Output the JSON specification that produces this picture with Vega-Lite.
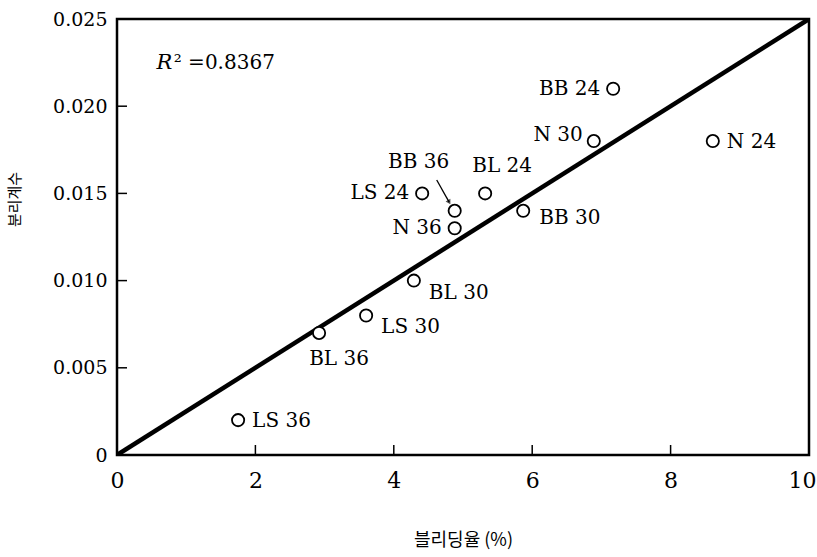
{
  "$schema": "https://vega.github.io/schema/vega-lite/v6.json",
  "width": 692,
  "height": 436,
  "autosize": {"type": "none"},
  "padding": {"left": 117, "top": 19, "right": 8, "bottom": 102},
  "background": "white",
  "config": {
    "view": {"stroke": "black", "strokeWidth": 2.5},
    "axis": {
      "domain": false,
      "grid": false,
      "ticks": false,
      "labelFlush": false,
      "labelColor": "black",
      "labelFont": "DejaVu Serif",
      "labelFontSize": 19,
      "titleFont": "Noto Sans CJK KR",
      "titleFontWeight": "normal",
      "titleColor": "black"
    }
  },
  "resolve": {"axis": {"x": "independent", "y": "independent"}},
  "datasets": {
    "pts": [
      {"name": "LS 36", "bleeding": 1.75, "coef": 0.002},
      {"name": "BL 36", "bleeding": 2.92, "coef": 0.007},
      {"name": "LS 30", "bleeding": 3.6, "coef": 0.008},
      {"name": "BL 30", "bleeding": 4.29, "coef": 0.010},
      {"name": "N 36", "bleeding": 4.88, "coef": 0.013},
      {"name": "BB 36", "bleeding": 4.88, "coef": 0.014},
      {"name": "LS 24", "bleeding": 4.41, "coef": 0.015},
      {"name": "BL 24", "bleeding": 5.32, "coef": 0.015},
      {"name": "BB 30", "bleeding": 5.87, "coef": 0.014},
      {"name": "N 30", "bleeding": 6.89, "coef": 0.018},
      {"name": "BB 24", "bleeding": 7.17, "coef": 0.021},
      {"name": "N 24", "bleeding": 8.61, "coef": 0.018}
    ],
    "fit": [
      {"bleeding": 0, "coef": 0},
      {"bleeding": 10, "coef": 0.025}
    ],
    "xticks": [{"v": 2}, {"v": 4}, {"v": 6}, {"v": 8}],
    "yticks": [{"v": 0.005}, {"v": 0.01}, {"v": 0.015}, {"v": 0.02}]
  },
  "layer": [
    {
      "data": {"name": "fit"},
      "mark": {"type": "line", "color": "black", "strokeWidth": 4.5, "clip": true},
      "encoding": {
        "x": {
          "field": "bleeding", "type": "quantitative",
          "scale": {"domain": [0, 10], "nice": false},
          "axis": {
            "orient": "bottom",
            "values": [0, 2, 4, 6, 8, 10],
            "format": "d",
            "labelPadding": 15,
            "labelFontSize": 22,
            "labelAlign": {"condition": {"test": "datum.value == 10", "value": "right"}, "value": "center"},
            "labelOffset": {"condition": {"test": "datum.value == 10", "value": 7}, "value": 0},
            "title": "블리딩율 (%)",
            "titleFontSize": 18,
            "titlePadding": 40
          }
        },
        "y": {
          "field": "coef", "type": "quantitative",
          "scale": {"domain": [0, 0.025], "nice": false},
          "axis": {
            "orient": "left",
            "values": [0, 0.005, 0.01, 0.015, 0.02, 0.025],
            "labelPadding": 10,
            "labelExpr": "datum.value == 0 ? '0' : format(datum.value, '.3f')",
            "title": "분리계수",
            "titleFontSize": 15,
            "titleAngle": 270,
            "titleX": -103,
            "titleY": 180,
            "titleAlign": "center",
            "titleBaseline": "middle"
          }
        }
      }
    },
    {
      "data": {"name": "xticks"},
      "mark": {"type": "tick", "orient": "vertical", "color": "black", "size": 20, "thickness": 1.5, "clip": true, "opacity": 1},
      "encoding": {
        "x": {"field": "v", "type": "quantitative", "axis": null},
        "y": {"datum": 0, "type": "quantitative", "axis": null}
      }
    },
    {
      "data": {"name": "yticks"},
      "mark": {"type": "tick", "orient": "horizontal", "color": "black", "size": 20, "thickness": 1.5, "clip": true, "opacity": 1},
      "encoding": {
        "y": {"field": "v", "type": "quantitative", "axis": null},
        "x": {"datum": 0, "type": "quantitative", "axis": null}
      }
    },
    {
      "data": {"values": [{"x": 4.62, "y": 0.01577, "x2": 4.80, "y2": 0.0145}]},
      "mark": {"type": "rule", "color": "black", "strokeWidth": 1.3},
      "encoding": {
        "x": {"field": "x", "type": "quantitative", "axis": null},
        "y": {"field": "y", "type": "quantitative", "axis": null},
        "x2": {"field": "x2"},
        "y2": {"field": "y2"}
      }
    },
    {
      "data": {"values": [{"x": 4.80, "y": 0.0145}]},
      "mark": {"type": "point", "shape": "triangle-down", "filled": true, "color": "black", "size": 30, "angle": 330},
      "encoding": {
        "x": {"field": "x", "type": "quantitative", "axis": null},
        "y": {"field": "y", "type": "quantitative", "axis": null}
      }
    },
    {
      "data": {"name": "pts"},
      "mark": {"type": "point", "shape": "circle", "filled": false, "fill": "white", "fillOpacity": 1, "stroke": "black", "strokeWidth": 1.8, "size": 150, "opacity": 1},
      "encoding": {
        "x": {"field": "bleeding", "type": "quantitative", "axis": null},
        "y": {"field": "coef", "type": "quantitative", "axis": null}
      }
    },
    {
      "data": {"name": "pts"},
      "transform": [{"filter": "indexof(['LS 36','N 24'], datum.name) >= 0"}],
      "mark": {"type": "text", "font": "DejaVu Serif", "fontSize": 20, "align": "left", "baseline": "middle", "dx": 14, "dy": 1, "color": "black"},
      "encoding": {
        "x": {"field": "bleeding", "type": "quantitative", "axis": null},
        "y": {"field": "coef", "type": "quantitative", "axis": null},
        "text": {"field": "name"}
      }
    },
    {
      "data": {"name": "pts"},
      "transform": [{"filter": "indexof(['LS 30','BL 30'], datum.name) >= 0"}],
      "mark": {"type": "text", "font": "DejaVu Serif", "fontSize": 20, "align": "left", "baseline": "middle", "dx": 15, "dy": 12, "color": "black"},
      "encoding": {
        "x": {"field": "bleeding", "type": "quantitative", "axis": null},
        "y": {"field": "coef", "type": "quantitative", "axis": null},
        "text": {"field": "name"}
      }
    },
    {
      "data": {"name": "pts"},
      "transform": [{"filter": "datum.name == 'BB 30'"}],
      "mark": {"type": "text", "font": "DejaVu Serif", "fontSize": 20, "align": "left", "baseline": "middle", "dx": 16, "dy": 7, "color": "black"},
      "encoding": {
        "x": {"field": "bleeding", "type": "quantitative", "axis": null},
        "y": {"field": "coef", "type": "quantitative", "axis": null},
        "text": {"field": "name"}
      }
    },
    {
      "data": {"name": "pts"},
      "transform": [{"filter": "indexof(['BB 24','LS 24','N 36'], datum.name) >= 0"}],
      "mark": {"type": "text", "font": "DejaVu Serif", "fontSize": 20, "align": "right", "baseline": "middle", "dx": -13, "dy": 0, "color": "black"},
      "encoding": {
        "x": {"field": "bleeding", "type": "quantitative", "axis": null},
        "y": {"field": "coef", "type": "quantitative", "axis": null},
        "text": {"field": "name"}
      }
    },
    {
      "data": {"name": "pts"},
      "transform": [{"filter": "datum.name == 'N 30'"}],
      "mark": {"type": "text", "font": "DejaVu Serif", "fontSize": 20, "align": "right", "baseline": "middle", "dx": -11, "dy": -6, "color": "black"},
      "encoding": {
        "x": {"field": "bleeding", "type": "quantitative", "axis": null},
        "y": {"field": "coef", "type": "quantitative", "axis": null},
        "text": {"field": "name"}
      }
    },
    {
      "data": {"name": "pts"},
      "transform": [{"filter": "datum.name == 'BL 36'"}],
      "mark": {"type": "text", "font": "DejaVu Serif", "fontSize": 20, "align": "center", "baseline": "middle", "dx": 20, "dy": 26, "color": "black"},
      "encoding": {
        "x": {"field": "bleeding", "type": "quantitative", "axis": null},
        "y": {"field": "coef", "type": "quantitative", "axis": null},
        "text": {"field": "name"}
      }
    },
    {
      "data": {"name": "pts"},
      "transform": [{"filter": "datum.name == 'BB 36'"}],
      "mark": {"type": "text", "font": "DejaVu Serif", "fontSize": 20, "align": "center", "baseline": "middle", "dx": -36, "dy": -49, "color": "black"},
      "encoding": {
        "x": {"field": "bleeding", "type": "quantitative", "axis": null},
        "y": {"field": "coef", "type": "quantitative", "axis": null},
        "text": {"field": "name"}
      }
    },
    {
      "data": {"name": "pts"},
      "transform": [{"filter": "datum.name == 'BL 24'"}],
      "mark": {"type": "text", "font": "DejaVu Serif", "fontSize": 20, "align": "center", "baseline": "middle", "dx": 17, "dy": -27, "color": "black"},
      "encoding": {
        "x": {"field": "bleeding", "type": "quantitative", "axis": null},
        "y": {"field": "coef", "type": "quantitative", "axis": null},
        "text": {"field": "name"}
      }
    },
    {
      "data": {"values": [{"x": 0.57, "y": 0.0225, "t": "R"}]},
      "mark": {"type": "text", "font": "DejaVu Serif", "fontSize": 21, "fontStyle": "italic", "align": "left", "baseline": "middle", "color": "black"},
      "encoding": {
        "x": {"field": "x", "type": "quantitative", "axis": null},
        "y": {"field": "y", "type": "quantitative", "axis": null},
        "text": {"field": "t"}
      }
    },
    {
      "data": {"values": [{"x": 0.82, "y": 0.0225, "t": "² =0.8367"}]},
      "mark": {"type": "text", "font": "DejaVu Serif", "fontSize": 20, "align": "left", "baseline": "middle", "color": "black"},
      "encoding": {
        "x": {"field": "x", "type": "quantitative", "axis": null},
        "y": {"field": "y", "type": "quantitative", "axis": null},
        "text": {"field": "t"}
      }
    }
  ]
}
